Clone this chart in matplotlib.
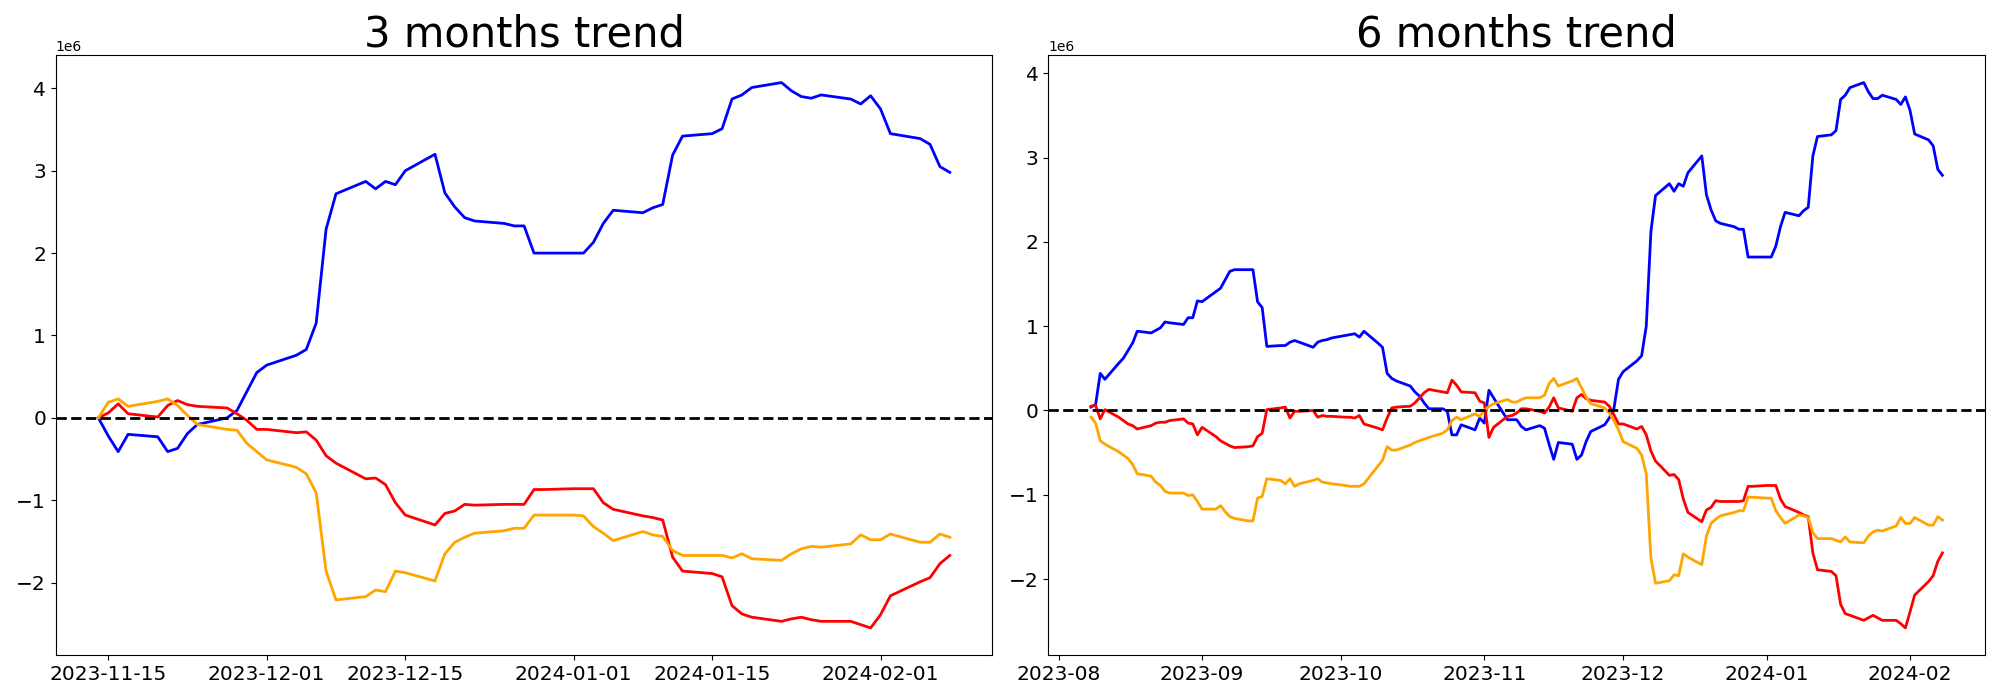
import matplotlib
matplotlib.use("Agg")
import matplotlib.pyplot as plt
import numpy as np
import pandas as pd

# ---------------- 3 months panel (values in millions) ----------------
dates_3m = pd.bdate_range("2023-11-14", "2024-02-08")

blue_3m = [
    0.00, -0.22, -0.41, -0.20, -0.23, -0.41, -0.37, -0.19, -0.08, 0.00, 0.09, 0.32, 0.55,          # Nov
    0.64, 0.76, 0.83, 1.15, 2.29, 2.72, 2.87, 2.78, 2.87, 2.83, 3.00, 3.20, 2.73, 2.56, 2.43,
    2.39, 2.36, 2.33, 2.33, 2.00, 2.00,                                                             # Dec
    2.00, 2.00, 2.13, 2.36, 2.52, 2.49, 2.55, 2.59, 3.19, 3.42, 3.45, 3.51, 3.87, 3.92, 4.01,
    4.07, 3.97, 3.90, 3.88, 3.92, 3.87, 3.81, 3.91,                                                 # Jan
    3.75, 3.45, 3.39, 3.32, 3.05, 2.98,                                                             # Feb
]
red_3m = [
    0.00, 0.06, 0.17, 0.05, 0.01, 0.15, 0.21, 0.16, 0.14, 0.12, 0.05, -0.03, -0.14,
    -0.14, -0.18, -0.17, -0.27, -0.46, -0.55, -0.74, -0.73, -0.81, -1.03, -1.18, -1.30, -1.16,
    -1.13, -1.05, -1.06, -1.05, -1.05, -1.05, -0.87, -0.87,
    -0.86, -0.86, -0.86, -1.03, -1.11, -1.19, -1.21, -1.24, -1.69, -1.86, -1.89, -1.93, -2.28,
    -2.38, -2.42, -2.47, -2.44, -2.42, -2.45, -2.47, -2.47, -2.51, -2.55,
    -2.39, -2.16, -1.99, -1.94, -1.77, -1.67,
]
orange_3m = [
    0.00, 0.19, 0.23, 0.14, 0.20, 0.23, 0.15, 0.03, -0.08, -0.14, -0.15, -0.31, -0.41,
    -0.51, -0.60, -0.68, -0.91, -1.86, -2.21, -2.17, -2.09, -2.11, -1.86, -1.88, -1.98, -1.65,
    -1.51, -1.45, -1.40, -1.37, -1.34, -1.34, -1.18, -1.18,
    -1.18, -1.19, -1.32, -1.40, -1.49, -1.38, -1.42, -1.44, -1.61, -1.67, -1.67, -1.67, -1.70,
    -1.65, -1.71, -1.73, -1.65, -1.59, -1.56, -1.57, -1.53, -1.42, -1.48,
    -1.48, -1.41, -1.51, -1.51, -1.41, -1.45,
]

# ---------------- 6 months panel (values in millions) ----------------
dates_6m = pd.bdate_range("2023-08-08", "2024-02-08")

blue_6m = [
    0.04, 0.07, 0.44, 0.37, 0.56, 0.62, 0.71, 0.80, 0.94, 0.92, 0.95, 0.98, 1.05, 1.04, 1.02, 1.10, 1.10, 1.30,
    1.29, 1.41, 1.45, 1.55, 1.65, 1.67, 1.67, 1.67, 1.29, 1.22, 0.76, 0.77, 0.77, 0.81, 0.83, 0.81, 0.75, 0.81,
    0.83, 0.84, 0.86,
    0.89, 0.90, 0.91, 0.87, 0.94, 0.80, 0.75, 0.44, 0.38, 0.35, 0.29, 0.22, 0.17, 0.09, 0.02, 0.02, -0.01,
    -0.29, -0.29, -0.17, -0.23, -0.09,
    -0.15, 0.24, 0.15, -0.11, -0.11, -0.11, -0.19, -0.23, -0.18, -0.21, -0.40, -0.58, -0.38, -0.40, -0.58,
    -0.53, -0.37, -0.25, -0.17, -0.09, 0.02, 0.37,
    0.46, 0.59, 0.65, 1.00, 2.12, 2.55, 2.69, 2.60, 2.69, 2.66, 2.82, 3.02, 2.56, 2.38, 2.25, 2.22, 2.18,
    2.15, 2.15, 1.82, 1.82,
    1.82, 1.82, 1.95, 2.18, 2.35, 2.31, 2.37, 2.41, 3.02, 3.25, 3.27, 3.32, 3.69, 3.74, 3.83, 3.89, 3.78,
    3.70, 3.70, 3.74, 3.69, 3.63, 3.72,
    3.56, 3.28, 3.21, 3.14, 2.86, 2.79,
]
red_6m = [
    0.05, 0.06, -0.10, 0.01, -0.08, -0.12, -0.16, -0.18, -0.22, -0.18, -0.15, -0.14, -0.14, -0.12, -0.10,
    -0.15, -0.16, -0.29,
    -0.20, -0.31, -0.36, -0.39, -0.42, -0.44, -0.43, -0.42, -0.31, -0.27, 0.01, 0.03, 0.04, -0.09, -0.01,
    -0.01, 0.00, -0.08, -0.06, -0.07, -0.07,
    -0.08, -0.08, -0.09, -0.06, -0.16, -0.21, -0.23, -0.09, 0.03, 0.04, 0.05, 0.09, 0.15, 0.21, 0.25, 0.22,
    0.21, 0.36, 0.30, 0.22, 0.21, 0.11,
    0.09, -0.32, -0.20, -0.07, -0.06, -0.03, 0.02, 0.02, -0.01, -0.03, 0.04, 0.15, 0.03, -0.01, 0.15, 0.19,
    0.14, 0.12, 0.10, 0.05, -0.05, -0.16,
    -0.16, -0.22, -0.19, -0.29, -0.48, -0.60, -0.77, -0.76, -0.82, -1.05, -1.21, -1.32, -1.18, -1.15, -1.07,
    -1.08, -1.08, -1.08, -1.07, -0.90, -0.90,
    -0.89, -0.89, -0.89, -1.05, -1.14, -1.21, -1.24, -1.26, -1.69, -1.89, -1.91, -1.96, -2.30, -2.41, -2.43,
    -2.49, -2.46, -2.43, -2.46, -2.49, -2.49, -2.53, -2.58,
    -2.39, -2.19, -2.03, -1.96, -1.79, -1.69,
]
orange_6m = [
    -0.08, -0.15, -0.36, -0.40, -0.49, -0.53, -0.57, -0.64, -0.75, -0.78, -0.85, -0.89, -0.96, -0.98, -0.98,
    -1.01, -1.00, -1.08,
    -1.17, -1.17, -1.13, -1.20, -1.26, -1.28, -1.31, -1.31, -1.04, -1.02, -0.81, -0.83, -0.87, -0.81, -0.90,
    -0.87, -0.83, -0.81, -0.85, -0.86, -0.87,
    -0.89, -0.90, -0.90, -0.90, -0.87, -0.66, -0.59, -0.43, -0.47, -0.47, -0.41, -0.38, -0.36, -0.34, -0.32,
    -0.27, -0.23, -0.12, -0.08, -0.11, -0.04, -0.07,
    0.00, 0.05, 0.08, 0.13, 0.10, 0.10, 0.13, 0.15, 0.15, 0.18, 0.32, 0.38, 0.29, 0.35, 0.38, 0.27, 0.16,
    0.08, 0.03, -0.03, -0.12, -0.23,
    -0.37, -0.45, -0.53, -0.75, -1.75, -2.05, -2.02, -1.95, -1.96, -1.70, -1.74, -1.83, -1.49, -1.34, -1.29,
    -1.25, -1.21, -1.19, -1.19, -1.03, -1.03,
    -1.04, -1.04, -1.19, -1.27, -1.34, -1.24, -1.25, -1.27, -1.45, -1.52, -1.52, -1.54, -1.56, -1.50, -1.56,
    -1.57, -1.49, -1.44, -1.42, -1.43, -1.37, -1.27, -1.34,
    -1.34, -1.27, -1.36, -1.36, -1.26, -1.30,
]

titles = ["3 months trend", "6 months trend"]
colors = ["blue", "red", "orange"]

panels = [
    (dates_3m, [blue_3m, red_3m, orange_3m]),
    (dates_6m, [blue_6m, red_6m, orange_6m]),
]

fig, axes = plt.subplots(1, 2, figsize=(20, 7), dpi=100)
for ax, title, (dates, series) in zip(axes, titles, panels):
    for vals, c in zip(series, colors):
        ax.plot(dates, np.array(vals) * 1e6, color=c, linewidth=2)
    ax.axhline(0, color="black", linestyle="--", linewidth=2)
    ax.set_title(title, fontsize=30)
    ax.tick_params(labelsize=14.5)

fig.subplots_adjust(left=0.0279, right=0.9925, bottom=0.064, top=0.921, wspace=0.0598)
fig.savefig("out.png", dpi=100)
